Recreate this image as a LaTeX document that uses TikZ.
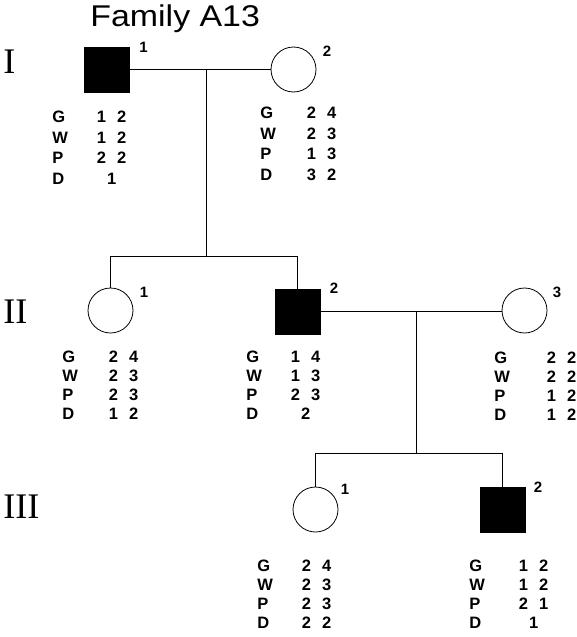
\documentclass[tikz,border=0pt]{standalone}
\usepackage{fontspec}
\setmainfont{Liberation Sans}
\newfontfamily\romanfont{Liberation Serif}

\tikzset{
  affected/.style={draw, fill=black, minimum size=45pt, inner sep=0pt, line width=0.8pt},
  female/.style={draw, circle, minimum size=45pt, inner sep=0pt, line width=0.8pt},
  gen/.style={anchor=base west, inner sep=0pt, font=\romanfont\fontsize{36}{36}\selectfont},
  idx/.style={inner sep=0pt, font=\bfseries\fontsize{15}{15}\selectfont},
  marker/.style={anchor=base west, inner sep=0pt, font=\bfseries\fontsize{16.5}{19}\selectfont},
  markerI/.style={marker, font=\bfseries\fontsize{16.5}{20.7}\selectfont},
}
\newcommand{\al}[2]{#1\hspace{11pt}#2}
\newcommand{\gtab}[5]{\begin{tabular}[t]{@{}l@{\hspace{#1}}c@{}}G & #2\\ W & #3\\ P & #4\\ D & #5\end{tabular}}

\begin{document}
\begin{tikzpicture}[x=1pt, y=-1pt, line width=0.8pt]
    \useasboundingbox (0, 0) rectangle (576, 637);

    \node[anchor=base west, inner sep=0pt, font=\fontsize{30}{30}\selectfont] (title) at (90, 26.5) {\scalebox{1.13}[1]{Family A13}};

    % generation I
    \node[gen] (genI) at (3, 73) {I};
    \node[affected] (I1) at (106.5, 69.5) {};
    \node[female] (I2) at (293.5, 69.5) {};
    \node[idx] (nI1) at (143.5, 47.5) {1};
    \node[idx] (nI2) at (327, 51) {2};
    \node[markerI] (tI1) at (52, 122.5) {\gtab{29pt}{\al12}{\al12}{\al22}{1}};
    \node[markerI] (tI2) at (260, 118.5) {\gtab{31pt}{\al24}{\al23}{\al13}{\al32}};

    \draw (I1.east) -- (I2.west);
    \coordinate (mI) at (206, 69.5);
    \coordinate (sI) at (206, 256);
    \coordinate (sIl) at (110.5, 256);
    \coordinate (sIr) at (297.5, 256);
    \draw (mI) -- (sI);
    \draw (sIl) -- (sIr);

    % generation II
    \node[gen] (genII) at (3, 323) {II};
    \node[female] (II1) at (110.5, 310.5) {};
    \node[affected] (II2) at (297.5, 311.5) {};
    \node[female] (II3) at (524.5, 310.5) {};
    \node[idx] (nII1) at (144, 292) {1};
    \node[idx] (nII2) at (334, 288) {2};
    \node[idx] (nII3) at (557, 292) {3};
    \node[marker] (tII1) at (62, 362.5) {\gtab{31pt}{\al24}{\al23}{\al23}{\al12}};
    \node[marker] (tII2) at (246, 362.5) {\gtab{29pt}{\al14}{\al13}{\al23}{2}};
    \node[marker] (tII3) at (494, 363.5) {\gtab{37pt}{\al22}{\al22}{\al12}{\al12}};

    \draw (sIl) -- (II1.north);
    \draw (sIr) -- (II2.north);
    \draw (II2.east) -- (II3.west |- II2.east);
    \coordinate (mII) at (416, 311.5);
    \coordinate (sII) at (416, 453);
    \coordinate (sIIl) at (315.5, 453);
    \coordinate (sIIr) at (502.5, 453);
    \draw (mII) -- (sII);
    \draw (sIIl) -- (sIIr);

    % generation III
    \node[gen] (genIII) at (3, 518) {III};
    \node[female] (III1) at (315.5, 509.5) {};
    \node[affected] (III2) at (502.5, 509.5) {};
    \node[idx] (nIII1) at (345, 489) {1};
    \node[idx] (nIII2) at (538, 487) {2};
    \node[marker] (tIII1) at (257, 571.5) {\gtab{29pt}{\al24}{\al23}{\al23}{\al22}};
    \node[marker] (tIII2) at (469, 571.5) {\gtab{34pt}{\al12}{\al12}{\al21}{1}};

    \draw (sIIl) -- (III1.north);
    \draw (sIIr) -- (III2.north);

\end{tikzpicture}
\end{document}
